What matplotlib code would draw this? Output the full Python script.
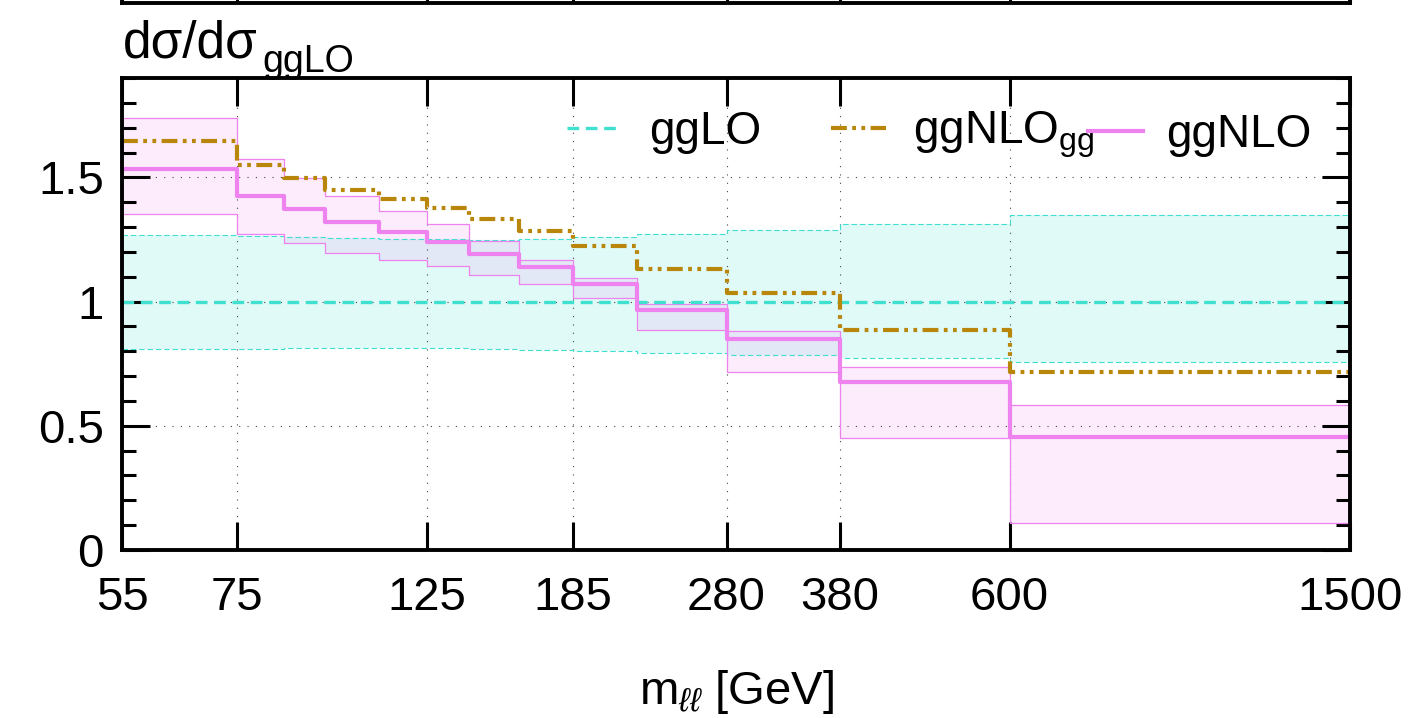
import numpy as np
import matplotlib.pyplot as plt
from matplotlib.ticker import FixedLocator, NullLocator, MultipleLocator

plt.rcParams['font.family'] = ['Liberation Sans', 'DejaVu Sans']
plt.rcParams['mathtext.fontset'] = 'custom'
plt.rcParams['mathtext.rm'] = 'Liberation Sans'
plt.rcParams['mathtext.it'] = 'Liberation Sans:italic'
plt.rcParams['mathtext.bf'] = 'Liberation Sans:bold'

# bin edges in m_ll [GeV]
edges = [55, 75, 85, 95, 110, 125, 140, 160, 185, 220, 280, 380, 600, 1500]

# ggLO (normalised to itself) and its scale band
lo = [1.0, 1.0, 1.0, 1.0, 1.0, 1.0, 1.0, 1.0, 1.0, 1.0, 1.0, 1.0, 1.0]
lo_up = [1.266, 1.263, 1.260, 1.255, 1.253, 1.250, 1.247, 1.250, 1.260, 1.273, 1.290, 1.314, 1.347]
lo_dn = [0.810, 0.811, 0.813, 0.815, 0.815, 0.815, 0.810, 0.805, 0.800, 0.794, 0.784, 0.773, 0.757]

# ggNLO_gg
nlogg = [1.646, 1.548, 1.499, 1.448, 1.411, 1.375, 1.333, 1.284, 1.223, 1.133, 1.035, 0.884, 0.715]

# ggNLO and its band
nlo = [1.535, 1.425, 1.374, 1.320, 1.280, 1.239, 1.190, 1.138, 1.069, 0.965, 0.851, 0.675, 0.454]
nlo_up = [1.737, 1.575, 1.499, 1.425, 1.366, 1.311, 1.243, 1.167, 1.093, 0.992, 0.880, 0.737, 0.585]
nlo_dn = [1.352, 1.273, 1.237, 1.196, 1.169, 1.142, 1.106, 1.069, 1.016, 0.886, 0.716, 0.450, 0.108]

xticks = [55, 75, 125, 185, 280, 380, 600, 1500]
yticks = [0, 0.5, 1, 1.5]
ytick_labels = ['0', '0.5', '1', '1.5']


def stepy(v):
    return np.r_[v, v[-1]]


W, H = 1410, 718
fig = plt.figure(figsize=(W / 100, H / 100), dpi=100)
ax = fig.add_axes([122 / W, 1 - 550 / H, 1228 / W, 472 / H])

cyan = '#40e0d0'
pink = '#ee82ee'
brown = '#b8860b'

ax.fill_between(edges, stepy(lo_dn), stepy(lo_up), step='post', color=cyan, alpha=0.16, lw=0)
ax.step(edges, stepy(lo_up), where='post', color=cyan, lw=0.8, dashes=(5, 2.5))
ax.step(edges, stepy(lo_dn), where='post', color=cyan, lw=0.8, dashes=(5, 2.5))

ax.fill_between(edges, stepy(nlo_dn), stepy(nlo_up), step='post', color=pink, alpha=0.15, lw=0)
ax.step(edges, stepy(nlo_up), where='post', color=pink, lw=0.9)
ax.step(edges, stepy(nlo_dn), where='post', color=pink, lw=0.9)

l1, = ax.step(edges, stepy(lo), where='post', color=cyan, lw=2.4, dashes=(3.5, 2), label='ggLO')
l2, = ax.step(edges, stepy(nlogg), where='post', color=brown, lw=3,
              dashes=(3.8, 1.3, 0.9, 1.3, 0.9, 1.3), label=r'ggNLO$_{\mathrm{gg}}$')
l3, = ax.step(edges, stepy(nlo), where='post', color=pink, lw=3, label='ggNLO')

ax.set_xscale('log')
ax.set_xlim(55, 1500)
ax.set_ylim(0, 1.9)
ax.xaxis.set_major_locator(FixedLocator(xticks))
ax.xaxis.set_minor_locator(NullLocator())
ax.set_xticklabels([str(t) for t in xticks])
ax.yaxis.set_major_locator(FixedLocator(yticks))
ax.yaxis.set_minor_locator(MultipleLocator(0.1))
ax.set_yticklabels(ytick_labels)

ax.grid(True, which='major', color='#444444', lw=0.8, dashes=(1, 6.5))
ax.tick_params(which='both', direction='in', top=True, right=True, width=2.2, labelsize=34)
ax.tick_params(which='major', length=20)
ax.tick_params(which='minor', length=10)
ax.tick_params(axis='x', pad=19)
ax.tick_params(axis='y', pad=13)
for s in ax.spines.values():
    s.set_linewidth(2.8)

ax.set_xlabel(r'm$_{\ell\ell}$ [GeV]', fontsize=34, labelpad=34)

# y title at top left
fig.text(123 / W, 1 - 57 / H, 'dσ/dσ', fontsize=37, va='baseline', ha='left')
fig.text(262 / W, 1 - 72 / H, 'ggLO', fontsize=27, va='baseline', ha='left')

leg_kw = dict(frameon=False, fontsize=33, handlelength=1.2, handletextpad=0.6,
              borderpad=0, borderaxespad=0, bbox_transform=fig.transFigure)
leg1 = ax.legend(handles=[l1, l2], loc='center left', bbox_to_anchor=(567 / W, 1 - 135 / H),
                 ncol=2, columnspacing=1.5, **leg_kw)
ax.add_artist(leg1)
ax.legend(handles=[l3], loc='center left', bbox_to_anchor=(1088 / W, 1 - 135 / H),
          **dict(leg_kw, handletextpad=0.5))

# bottom edge of the panel above
ax2 = fig.add_axes([122 / W, 1 - 3 / H, 1228 / W, 0.3])
ax2.set_xscale('log')
ax2.set_xlim(55, 1500)
ax2.xaxis.set_major_locator(FixedLocator(xticks))
ax2.xaxis.set_minor_locator(NullLocator())
ax2.tick_params(axis='x', direction='in', length=20, width=2.2, labelbottom=False)
ax2.set_yticks([])
for s in ax2.spines.values():
    s.set_linewidth(2.8)

fig.savefig('out.png', dpi=100)
